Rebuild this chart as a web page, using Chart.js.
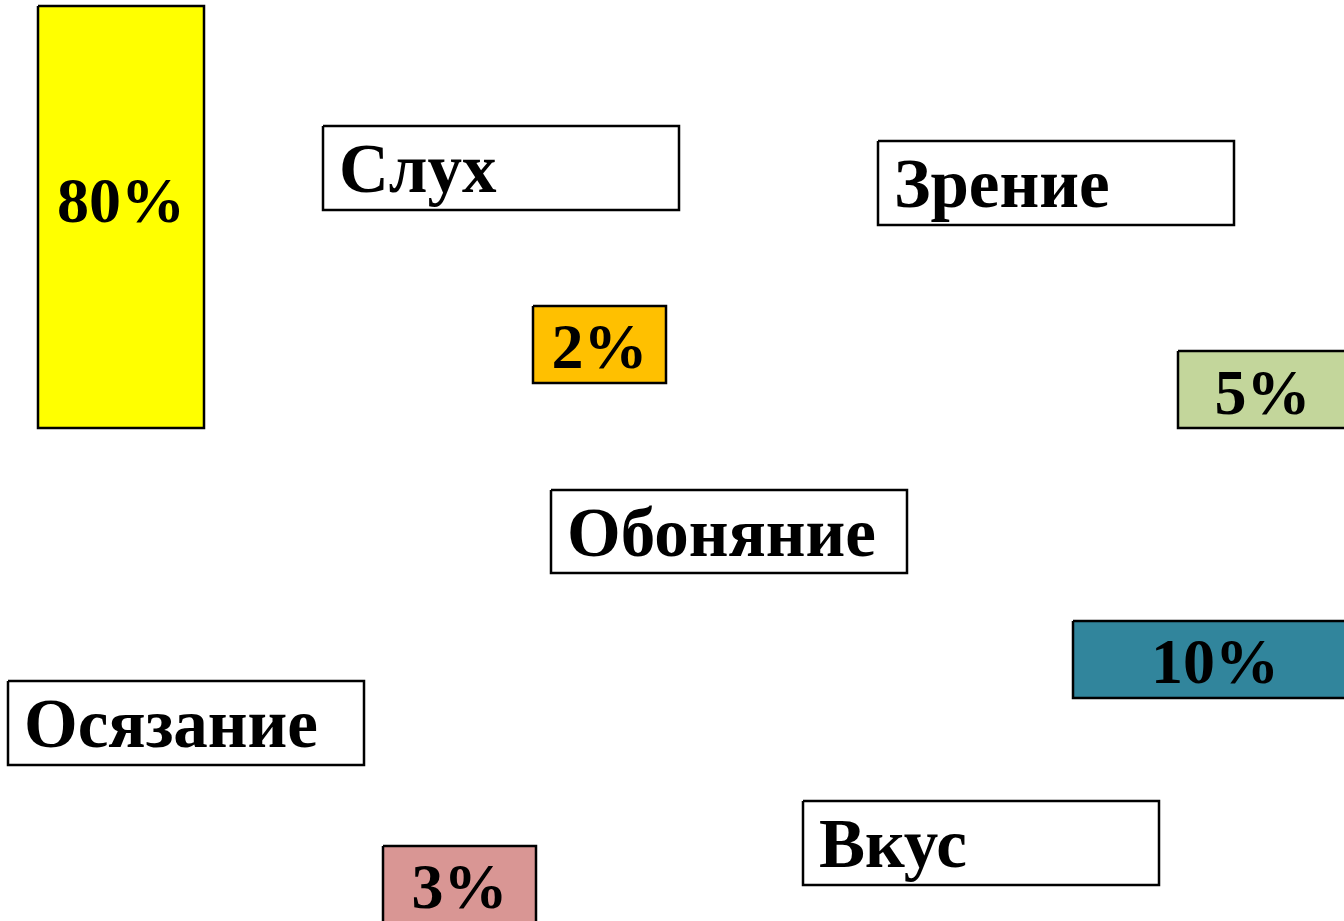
<!DOCTYPE html>
<html lang="ru">
<head>
    <meta charset="UTF-8">
    <script src="https://cdn.jsdelivr.net/npm/chart.js"></script>
    <title>Органы чувств</title>
    <style>
        body { margin: 0; background: #fff; }
    </style>
</head>
<body>
    <canvas id="grafico1" width="1344" height="921"></canvas>

    <script>
        // values (percent tiles)
        const percentValues = [80, 2, 5, 10, 3]
        const percentColors = ['#FFFF00', '#FFC000', '#C3D69B', '#31859C', '#D99694']

        // sense names (white tiles)
        const senses = ['Слух', 'Зрение', 'Обоняние', 'Осязание', 'Вкус']

        // layout of the slide, in slide units: [x0, y0, x1, y1]
        const percentBoxes = [[38, 6, 204, 428], [533, 306, 666, 383], [1178, 351, 1347, 428], [1073, 621, 1357, 698], [383, 846, 536, 923]]
        const percentBaseline = [222, 368, 414, 683, 908]
        const senseBoxes = [[323, 126, 679, 210], [878, 141, 1234, 225], [551, 490, 907, 573], [8, 681, 364, 765], [803, 801, 1159, 885]]

        const rect = (b) => [
            {x: b[0], y: b[1]}, {x: b[2], y: b[1]}, {x: b[2], y: b[3]}, {x: b[0], y: b[3]}, {x: b[0], y: b[1]}
        ]

        const datasets = []
        percentBoxes.forEach((b, i) => {
            datasets.push({
                label: percentValues[i] + '%',
                data: rect(b),
                backgroundColor: percentColors[i],
                borderColor: '#000',
                borderWidth: 2.5,
                borderJoinStyle: 'miter',
                fill: 'shape',
                pointRadius: 0,
                tension: 0,
                clip: false
            })
        })
        senseBoxes.forEach((b, i) => {
            datasets.push({
                label: senses[i],
                data: rect(b),
                backgroundColor: '#fff',
                borderColor: '#000',
                borderWidth: 2.5,
                borderJoinStyle: 'miter',
                fill: 'shape',
                pointRadius: 0,
                tension: 0,
                clip: false
            })
        })

        const fontePct = 'bold 64px "Liberation Serif", "Times New Roman", serif'
        const fonteNome = 'bold 69px "Liberation Serif", "Times New Roman", serif'

        const textos = {
            id: 'textos',
            afterDatasetsDraw(chart) {
                const c = chart.ctx
                const sx = chart.scales.x
                const sy = chart.scales.y
                c.save()
                c.fillStyle = '#000'
                c.textBaseline = 'alphabetic'
                c.font = fontePct
                c.textAlign = 'center'
                percentBoxes.forEach((b, i) => {
                    const cx = sx.getPixelForValue((b[0] + b[2]) / 2)
                    c.fillText(percentValues[i] + '%', cx, sy.getPixelForValue(percentBaseline[i]))
                })
                c.font = fonteNome
                c.textAlign = 'left'
                senseBoxes.forEach((b, i) => {
                    c.fillText(senses[i], sx.getPixelForValue(b[0] + 16), sy.getPixelForValue(b[1] + 66))
                })
                c.restore()
            }
        }

        const ctx = document.getElementById('grafico1')
        new Chart(ctx, {
            type: 'line',
            data: { datasets: datasets },
            options: {
                responsive: false,
                animation: false,
                layout: { padding: 0 },
                plugins: { legend: { display: false }, tooltip: { enabled: false } },
                scales: {
                    x: { type: 'linear', min: 0, max: 1344, display: false },
                    y: { type: 'linear', min: 0, max: 921, reverse: true, display: false }
                }
            },
            plugins: [textos]
        })
    </script>
</body>
</html>
